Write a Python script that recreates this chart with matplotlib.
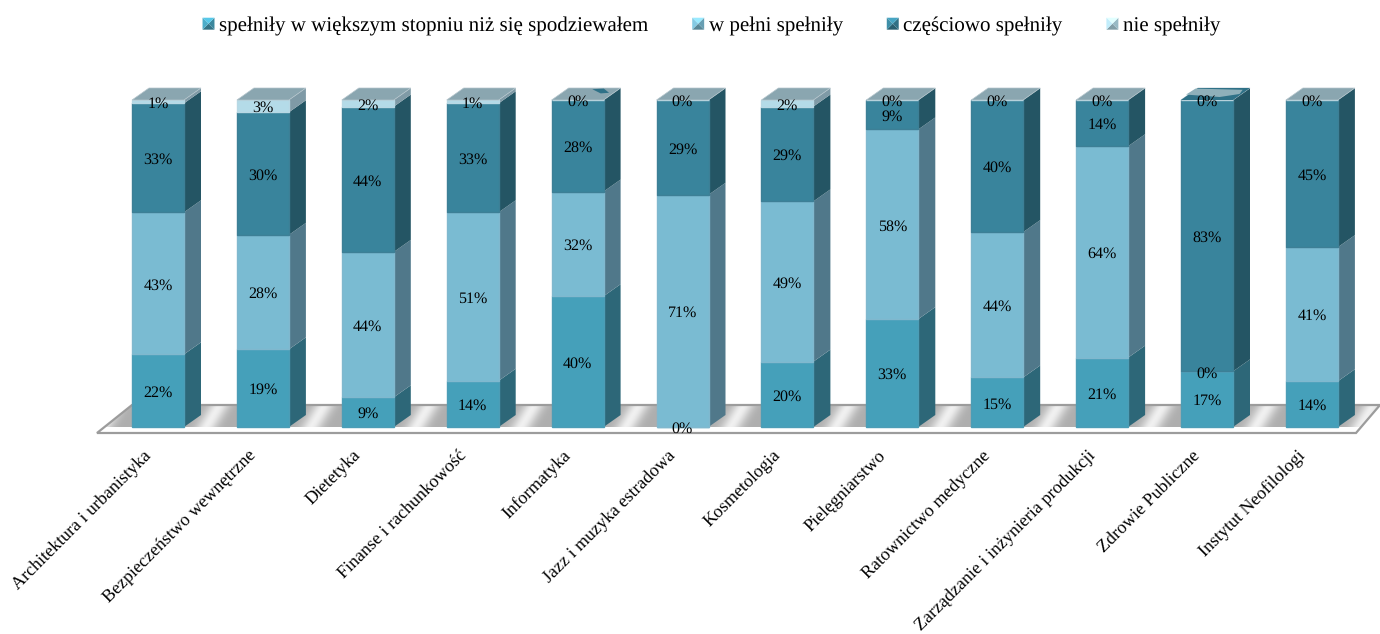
import numpy as np
import matplotlib
matplotlib.use("Agg")
import matplotlib.pyplot as plt
from matplotlib.patches import Polygon, Rectangle
from matplotlib.legend_handler import HandlerBase
from matplotlib.transforms import ScaledTranslation

plt.rcParams['font.family'] = ['Liberation Serif', 'DejaVu Serif']
plt.rcParams['text.hinting'] = 'no_hinting'
plt.rcParams['text.hinting_factor'] = 1

categories = ["Architektura i urbanistyka", "Bezpieczeństwo wewnętrzne", "Dietetyka",
              "Finanse i rachunkowość", "Informatyka", "Jazz i muzyka estradowa",
              "Kosmetologia", "Pielęgniarstwo", "Ratownictwo medyczne",
              "Zarządzanie i inżynieria produkcji", "Zdrowie Publiczne", "Instytut Neofilologi"]
series_names = ["spełniły w większym stopniu niż się spodziewałem", "w pełni spełniły",
                "częściowo spełniły", "nie spełniły"]
exceeded = [22, 19, 9, 14, 40, 0, 20, 33, 15, 21, 17, 14]
fully = [43, 28, 44, 51, 32, 71, 49, 58, 44, 64, 0, 41]
partly = [33, 30, 44, 33, 28, 29, 29, 9, 40, 14, 83, 45]
notmet = [1, 3, 2, 1, 0, 0, 2, 0, 0, 0, 0, 0]

front = ['#45A0BA', '#7ABBD2', '#39849C', '#B4DBE8']
edge = ['#4C9DB6', '#80B8CE', '#3D7F96', '#B8D8E4']
side = ['#2D6778', '#50788A', '#245564', '#7F9AA6']
top_col = '#8AA6B0'

W, H = 1380, 634
P0, PSTEP = 158.0, 104.9
Y0, Y100 = 427.0, 100.0
fig = plt.figure(figsize=(W / 100, H / 100), dpi=100)
ax = fig.add_axes([0, (H - Y0) / H, 1, (Y0 - Y100) / H])
ax.set_xlim(-P0 / PSTEP, (W - P0) / PSTEP)
ax.set_ylim(0, 100)
for s in ax.spines.values():
    s.set_visible(False)
ax.set_yticks([])
ax.patch.set_alpha(0)

dx_d = 17 / PSTEP
dy_d = 12 / (Y0 - Y100) * 100
bw = 52 / PSTEP


def px(x, y):
    return ((x - P0) / PSTEP, (Y0 - y) / (Y0 - Y100) * 100)


# floor with its reflective stripes
fx0, fx1, fy0, fy1 = 90, 1380, 405, 434
xx, yy = np.meshgrid(np.arange(fx0, fx1), np.arange(fy0, fy1))
phase = ((xx + (yy - 405) * 0.6 - P0) % PSTEP) / PSTEP
lum = 0.68 + 0.26 * np.exp(-((phase - 0.58) / 0.10) ** 2)
a, b = px(fx0, fy1), px(fx1, fy0)
im = ax.imshow(lum, cmap='gray', vmin=0, vmax=1, extent=(a[0], b[0], a[1], b[1]),
               origin='upper', aspect='auto', zorder=1, interpolation='bilinear')
floor_pts = [px(97, 433), px(132, 405), px(1380, 405), px(1356, 433)]
fp = Polygon(floor_pts, closed=True, transform=ax.transData, fc='none', ec='none')
ax.add_patch(fp)
im.set_clip_path(fp)
ax.add_patch(Polygon([px(97, 433), px(1356, 433), px(1356, 429), px(102, 429)], closed=True,
                     fc='#D2D2D2', ec='none', zorder=1.1))
ax.add_patch(Polygon(floor_pts, closed=True, fc='none', ec='#9C9C9C', lw=1.6, zorder=1.2, clip_on=False))
ax.set_xlim(-P0 / PSTEP, (W - P0) / PSTEP)
ax.set_ylim(0, 100)

vals = np.array([exceeded, fully, partly, notmet], dtype=float)
pct = vals / vals.sum(axis=0) * 100
x = np.arange(len(categories))
bottom = np.zeros(len(categories))
for k in range(4):
    ax.bar(x, pct[k], bw, bottom=bottom, color=front[k], edgecolor=edge[k], linewidth=1.0,
           zorder=3, clip_on=False)
    for i in x:
        r = i + bw / 2
        b0, b1 = bottom[i], bottom[i] + pct[k][i]
        if pct[k][i] > 0:
            ax.add_patch(Polygon([(r, b0), (r + dx_d, b0 + dy_d), (r + dx_d, b1 + dy_d), (r, b1)],
                                 closed=True, fc=side[k], ec='none', zorder=2.5, clip_on=False))
    bottom = bottom + pct[k]

for i in x:
    l, r = i - bw / 2, i + bw / 2
    ax.add_patch(Polygon([(l, 100), (r, 100), (r + dx_d, 100 + dy_d), (l + dx_d, 100 + dy_d)], closed=True,
                         fc=top_col, ec='#B5C5CC', lw=0.5, zorder=3.1, clip_on=False))

# small rendering artefacts on two of the caps
i5 = 4
ax.add_patch(Polygon([(i5 + .14, 100 + .9 * dy_d), (i5 + .25, 100 + .95 * dy_d), (i5 + .30, 100 + .6 * dy_d),
                      (i5 + .22, 100 + .55 * dy_d)], closed=True, fc='#2F7187', ec='none', zorder=3.2, clip_on=False))
i11 = 10
ax.add_patch(Polygon([(i11 - bw / 2, 100), (i11 + bw / 2, 100), (i11 + bw / 2 + dx_d, 100 + dy_d),
                      (i11 - bw / 2 + dx_d, 100 + dy_d)], closed=True, fc='#2F7187', ec='none', zorder=3.2, clip_on=False))
ax.add_patch(Polygon([(i11 - .11, 100 + .95 * dy_d), (i11 + .34, 100 + .85 * dy_d), (i11 + .31, 100 + .5 * dy_d),
                      (i11 + .12, 100 + .25 * dy_d), (i11 - .12, 100 + .4 * dy_d), (i11 - .20, 100 + .45 * dy_d)],
                     closed=True, fc='#8FB0BA', ec='none', zorder=3.3, clip_on=False))

# data labels
bottom = np.zeros(len(categories))
for k in range(4):
    for i in x:
        ax.annotate(f"{int(vals[k][i])}%", (i, bottom[i] + pct[k][i] / 2), xytext=(0, -1.6),
                    textcoords='offset points', ha='center', va='center',
                    fontsize=11.5, color='black', zorder=5, annotation_clip=False)
    bottom = bottom + pct[k]

ax.set_xticks(x)
ax.set_xticklabels(categories, rotation=45, ha='right', va='top', rotation_mode='anchor', fontsize=13)
ax.tick_params(axis='x', length=0, pad=19)
shift = ScaledTranslation(-15 / 100, 6 / 100, fig.dpi_scale_trans)
for t in ax.get_xticklabels():
    t.set_transform(t.get_transform() + shift)


class Pyramid(HandlerBase):
    def __init__(self, base):
        super().__init__()
        self.base = base

    def create_artists(self, legend, orig, xd, yd, w, h, fs, trans):
        c = np.array(matplotlib.colors.to_rgb(self.base))
        s = 8.6
        x0 = -xd
        y0 = -yd + (h - s) / 2
        cx, cy = x0 + s / 2, y0 + s / 2
        corners = [(x0, y0), (x0 + s, y0), (x0 + s, y0 + s), (x0, y0 + s)]
        # bottom, right, top, left faces
        shades = [0.72, 0.85, 1.25, 1.08]
        out = []
        for j in range(4):
            col = np.clip(c * shades[j], 0, 1)
            out.append(Polygon([corners[j], corners[(j + 1) % 4], (cx, cy)], closed=True, fc=col, ec='none',
                               transform=trans))
        return out


handles = [Rectangle((0, 0), 1, 1, fc=c) for c in front]
leg = fig.legend(handles, series_names, loc='center', bbox_to_anchor=(711.5 / W, 1 - 26 / H), ncol=4,
                 frameon=False, fontsize=15, handlelength=0.6, handleheight=0.6, handletextpad=0.2,
                 columnspacing=2.1, borderpad=0, borderaxespad=0,
                 handler_map={h: Pyramid(c) for h, c in zip(handles, front)})

fig.savefig('out.png', dpi=100, facecolor='white')
